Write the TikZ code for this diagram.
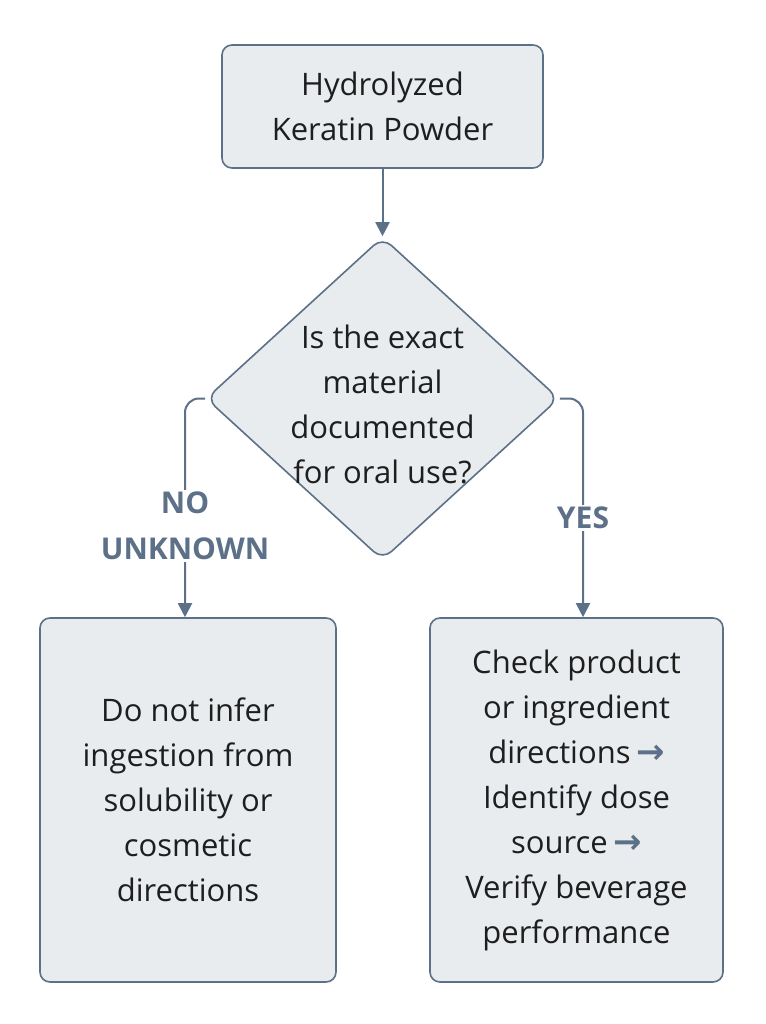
\documentclass[tikz,border=0pt]{standalone}
\usepackage{fontspec}
\setmainfont{Open Sans}
\newfontfamily\arrfont{DejaVu Sans}
\usetikzlibrary{shapes.geometric,arrows.meta}
\definecolor{cbox}{HTML}{E9ECEF}
\definecolor{cline}{HTML}{5C7088}
\definecolor{ctext}{HTML}{1E1E1E}
\newcommand{\nextstep}{{\arrfont\bfseries\fontsize{34}{44}\selectfont\color{cline}\,→}}
\begin{document}
\begin{tikzpicture}[x=1pt,y=-1pt,
  box/.style={draw=cline,fill=cbox,line width=1.6pt,rounded corners=10pt,text=ctext,
    align=center,font=\fontsize{31}{45}\selectfont,inner sep=0pt},
  flow/.style={draw=cline,line width=2pt,-{Triangle[length=14pt,width=14pt]},rounded corners=14pt},
  tag/.style={text=cline,font=\bfseries\fontsize{30}{46}\selectfont,align=center}]
\useasboundingbox (0,0) rectangle (765,1024);
%
\node[box,minimum width=321pt,minimum height=123pt] (start) at (382.5,106.5) {Hydrolyzed\\Keratin Powder};
\node[box,diamond,rounded corners=12pt,minimum width=353pt,minimum height=323pt,aspect=1.09] (ask) at (382.5,398.5) {};
\node[text=ctext,align=center,font=\fontsize{31}{45}\selectfont] at (382.5,404) {Is the exact\\material\\documented\\for oral use?};
\node[box,minimum width=296pt,minimum height=364pt] (no) at (188,800) {Do not infer\\ingestion from\\solubility or\\cosmetic\\directions};
\node[box,minimum width=293pt,minimum height=364pt] (yes) at (576.5,800) {Check product\\or ingredient\\directions\nextstep\\Identify dose\\source\nextstep\\Verify beverage\\performance};
%
\draw[flow] (start.south) -- (ask.north);
\draw[flow] (ask.west) -| (185,470) -- (no.north -| 185,0);
\draw[flow] (ask.east) -| (yes.north -| 583,0);
\node[tag,fill=white,inner sep=2pt] at (185,526) {NO\\UNKNOWN};
\node[tag,fill=white,inner sep=2pt] at (583,518) {YES};
\end{tikzpicture}
\end{document}
